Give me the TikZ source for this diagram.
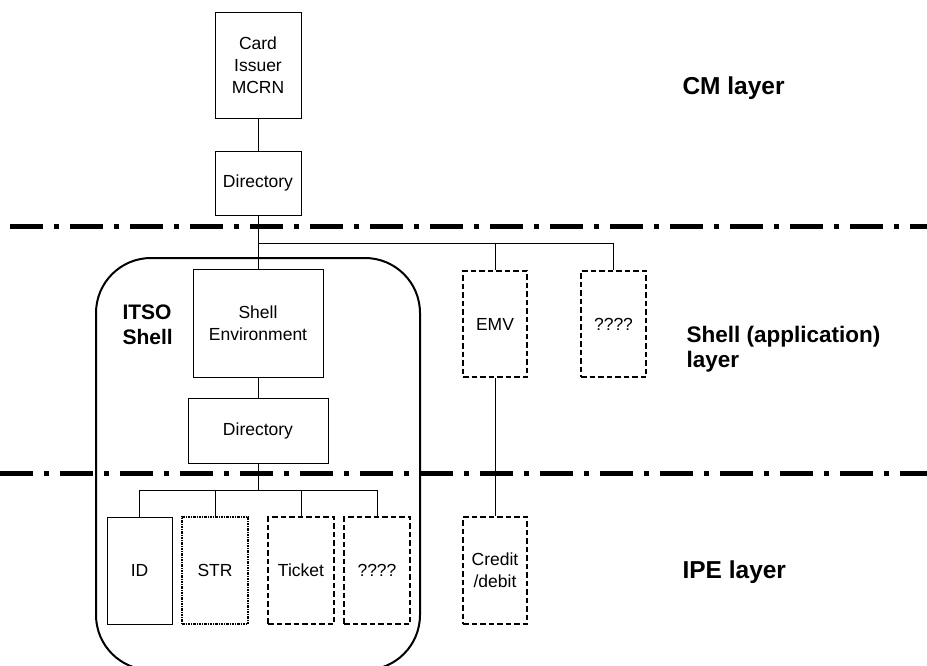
\documentclass[tikz,border=0pt]{standalone}
\usepackage{fontspec}
\setmainfont{Liberation Sans}
\begin{document}
\begin{tikzpicture}[x=1pt,y=-1pt,
	box/.style={draw,line width=1pt,inner sep=0pt,align=center,font=\fontsize{17.5}{22}\selectfont},
	dashbox/.style={box,line width=1.5pt,dash pattern=on 5.5pt off 3pt},
	dotbox/.style={box,line width=1.3pt,dash pattern=on 2.5pt off 1pt on 1pt off 1pt},
	layerline/.style={line width=5pt,dash pattern=on 33pt off 11pt on 4.5pt off 11.5pt},
	layerlabel/.style={anchor=west,align=left,font=\bfseries\fontsize{24.5}{27}\selectfont},
	link/.style={line width=1pt}]
	\useasboundingbox (0,0) rectangle (927,665);
	% layer separators
	\draw[layerline] (10,226) -- (927,226);
	\draw[layerline] (0,473) -- (927,473);
	% ITSO shell outline
	\draw[line width=2pt,rounded corners=55pt] (96,258) rectangle (420,670);
	\node[anchor=west,align=left,font=\bfseries\fontsize{21}{25}\selectfont] (itsolabel) at (119,325) {ITSO\\Shell};
	% CM layer
	\node[box,minimum width=86pt,minimum height=106pt] (card) at (258,65) {Card\\Issuer\\MCRN};
	\node[box,minimum width=86pt,minimum height=64pt] (dircm) at (258,183) {Directory};
	% shell layer
	\node[box,minimum width=130pt,minimum height=108pt] (shellenv) at (258,323) {Shell\\Environment};
	\node[box,minimum width=140pt,minimum height=65pt] (dirshell) at (258,430.5) {Directory};
	\node[dashbox,minimum width=64pt,minimum height=106pt] (emv) at (495,324) {EMV};
	\node[dashbox,minimum width=65pt,minimum height=106pt] (unkapp) at (613.5,324) {????};
	% IPE layer
	\node[box,minimum width=65pt,minimum height=107pt] (id) at (139.5,570.5) {ID};
	\node[dotbox,minimum width=66pt,minimum height=107pt] (str) at (215,570.5) {STR};
	\node[dashbox,minimum width=66pt,minimum height=107pt] (ticket) at (301,570.5) {Ticket};
	\node[dashbox,minimum width=66pt,minimum height=107pt] (unkitso) at (377,570.5) {????};
	\node[dashbox,minimum width=64pt,minimum height=107pt] (credit) at (495,570.5) {Credit\\/debit};
	% layer labels
	\node[layerlabel] (cmlabel) at (679,88) {CM layer};
	\node[layerlabel,font=\bfseries\fontsize{22.5}{25}\selectfont] (shelllabel) at (683,349) {Shell (application)\\layer};
	\node[layerlabel] (ipelabel) at (679,572) {IPE layer};
	% links
	\coordinate (jtop) at (258,243);
	\coordinate (jbot) at (258,490);
	\draw[link] (card) -- (dircm);
	\draw[link] (dircm) -- (shellenv);
	\draw[link] (jtop) -| (emv.north);
	\draw[link] (jtop) -| (unkapp.north);
	\draw[link] (shellenv) -- (dirshell);
	\draw[link] (dirshell) -- (jbot);
	\foreach \n in {id,str,ticket,unkitso}
		\draw[link] (jbot) -| (\n.north);
	\draw[link] (emv) -- (credit);
\end{tikzpicture}
\end{document}
